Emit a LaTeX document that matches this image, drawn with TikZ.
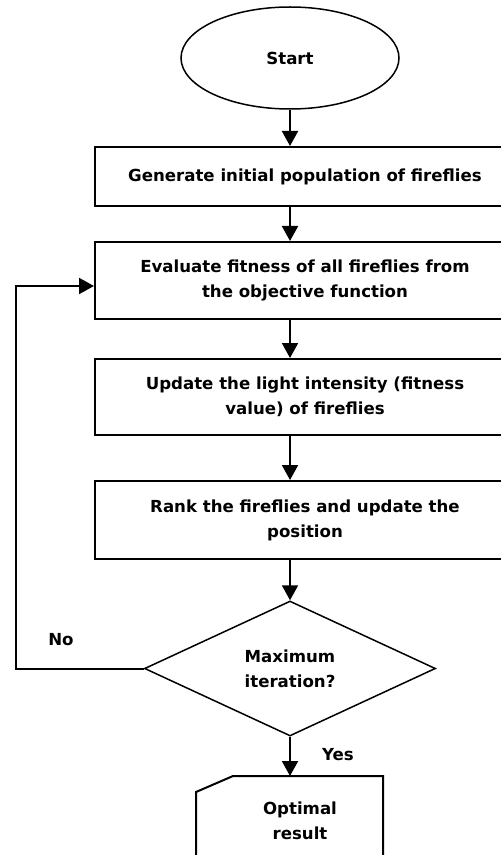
\documentclass[tikz,border=0pt]{standalone}
\usepackage{fontspec}
\setmainfont{DejaVu Sans}
\usetikzlibrary{shapes.geometric,arrows.meta}

\begin{document}
\begin{tikzpicture}[x=0.5pt,y=-0.5pt,font=\fontsize{8.3}{12.5}\selectfont\bfseries,
	arr/.style={line width=1pt,-{Triangle[length=7.5pt,width=8pt]}},
	stepbox/.style={draw,line width=1pt,minimum width=210pt,align=center,inner sep=0pt}]
		\fill[white] (0,0) rectangle (501,855);
		\clip (0,0) rectangle (501,855);

		\node[draw,ellipse,line width=0.75pt,minimum width=109pt,minimum height=51pt,inner sep=0pt] (start) at (290,58) {Start};
		\foreach \n/\y/\h/\t in {gen/176.5/29.5/{Generate initial population of fireflies},
			eval/280.5/38.5/{Evaluate fitness of all fireflies from\\the objective function},
			upd/397/38/{Update the light intensity (fitness\\value) of fireflies},
			rank/520/39/{Rank the fireflies and update the\\position}}
			{ \node[stepbox,minimum height=\h pt] (\n) at (305,\y) {\t};}

		\node[draw,diamond,line width=0.75pt,minimum width=145.5pt,minimum height=67.5pt,inner sep=0pt,align=left] (chk) at (290,668.5) {Maximum\\iteration?};

%		output card, open at the bottom
		\node[align=center] (res) at (300,820.5) {Optimal\\result};
		\coordinate (cardtop) at (290,776);
		\draw[line width=1pt] (383,870) -- (383,776) -- (233,776) -- (196,792) -- (196,870);

		\draw[arr] (start) -- (start |- gen.north);
		\foreach \a/\b in {gen/eval,eval/upd,upd/rank,rank/chk} { \draw[arr] (\a.south -| start) -- (\b.north -| start);}
		\draw[arr] (chk) -- (cardtop);
		\coordinate (loop) at (16,286);
		\draw[arr] (chk.west) -| (loop) -- (loop -| eval.west);

		\node (no) at (61,640) {No};
		\node (yes) at (338,755) {Yes};
	\end{tikzpicture}
\end{document}
